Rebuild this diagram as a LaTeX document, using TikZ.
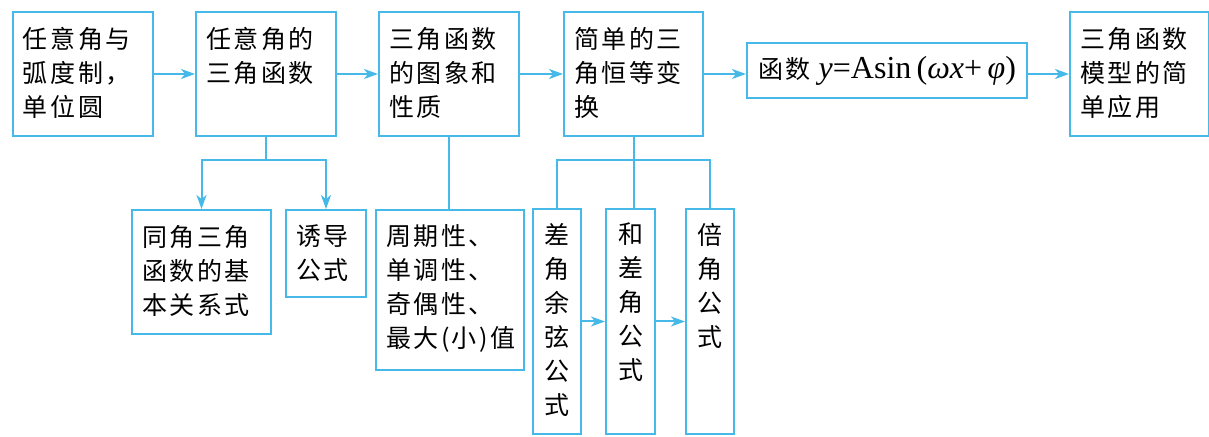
\documentclass[tikz,border=0pt]{standalone}
\usepackage{fontspec}
\usepackage{tikz}
\usetikzlibrary{arrows.meta}
\newfontfamily\cjk[LetterSpace=10]{Noto Sans CJK SC}
\newfontfamily\tms{Liberation Serif}
\definecolor{flowblue}{RGB}{70,185,232}
\newdimen\pxu \pxu=0.5pt
\newcommand{\lefttext}[3]{\parbox[c][#2\pxu][t]{#1\pxu}{\vspace*{15\pxu}\leftskip=10\pxu\relax #3}}
\newcommand{\midtext}[3]{\parbox[c][#2\pxu][t]{#1\pxu}{\vspace*{14\pxu}\centering #3}}

\begin{document}
\begin{tikzpicture}[x=0.5pt, y=-0.5pt,
    box/.style={draw=flowblue, line width=1pt, inner sep=0pt, anchor=north west,
        font=\cjk\fontsize{12.5pt}{17pt}\selectfont},
    link/.style={draw=flowblue, line width=1pt},
    arr/.style={link, -{Stealth[length=7pt, width=5pt, inset=2pt]}}]
    \useasboundingbox (0,0) rectangle (1209,437);
    \node[box] (angle) at (12,11) {\lefttext{140}{124}{任意角与\\弧度制，\\单位圆}};
    \node[box] (trig) at (195,11) {\lefttext{140}{124}{任意角的\\三角函数}};
    \node[box] (graph) at (378,11) {\lefttext{140}{124}{三角函数\\的图象和\\性质}};
    \node[box] (ident) at (563,11) {\lefttext{139}{124}{简单的三\\角恒等变\\换}};
    \node[box, minimum width=280\pxu, minimum height=55\pxu] (sine) at (746,42)
        {函数 {\tms\fontsize{16pt}{18pt}\selectfont\textit{y}=Asin\,(\textit{ωx}+\,\textit{φ})}};
    \node[box] (model) at (1069,11) {\lefttext{139}{124}{三角函数\\模型的简\\单应用}};
    \node[box] (basic) at (131,209) {\lefttext{139}{124}{同角三角\\函数的基\\本关系式}};
    \node[box] (induce) at (285,209) {\lefttext{80}{87}{诱导\\公式}};
    \node[box] (props) at (375,209) {\lefttext{148}{160}{周期性、\\单调性、\\奇偶性、\\最大(小)值}};
    \node[box] (cosdiff) at (532,208) {\midtext{48}{225}{差\\角\\余\\弦\\公\\式}};
    \node[box] (sumdiff) at (605,208) {\midtext{49}{225}{和\\差\\角\\公\\式}};
    \node[box] (double) at (685,208) {\midtext{48}{225}{倍\\角\\公\\式}};
    \coordinate (bus) at (0,160);
    \draw[arr] (angle) -- (trig);
    \draw[arr] (trig) -- (graph);
    \draw[arr] (graph) -- (ident);
    \draw[arr] (ident.east) -- (ident.east -| sine.west);
    \draw[arr] (sine.east |- model.west) -- (model.west);
    \draw[arr] (trig.south) -- (trig.south |- bus) -| (basic.north);
    \draw[arr] (trig.south |- bus) -| (induce.north);
    \draw[link] (graph.south) -- (graph.south |- props.north);
    \draw[link] (ident.south) -- (ident.south |- bus) -| (cosdiff.north);
    \draw[link] (ident.south |- bus) -| (double.north);
    \draw[link] (ident.south) -- (ident.south |- sumdiff.north);
    \draw[arr] (cosdiff) -- (sumdiff);
    \draw[arr] (sumdiff) -- (double);
\end{tikzpicture}
\end{document}
